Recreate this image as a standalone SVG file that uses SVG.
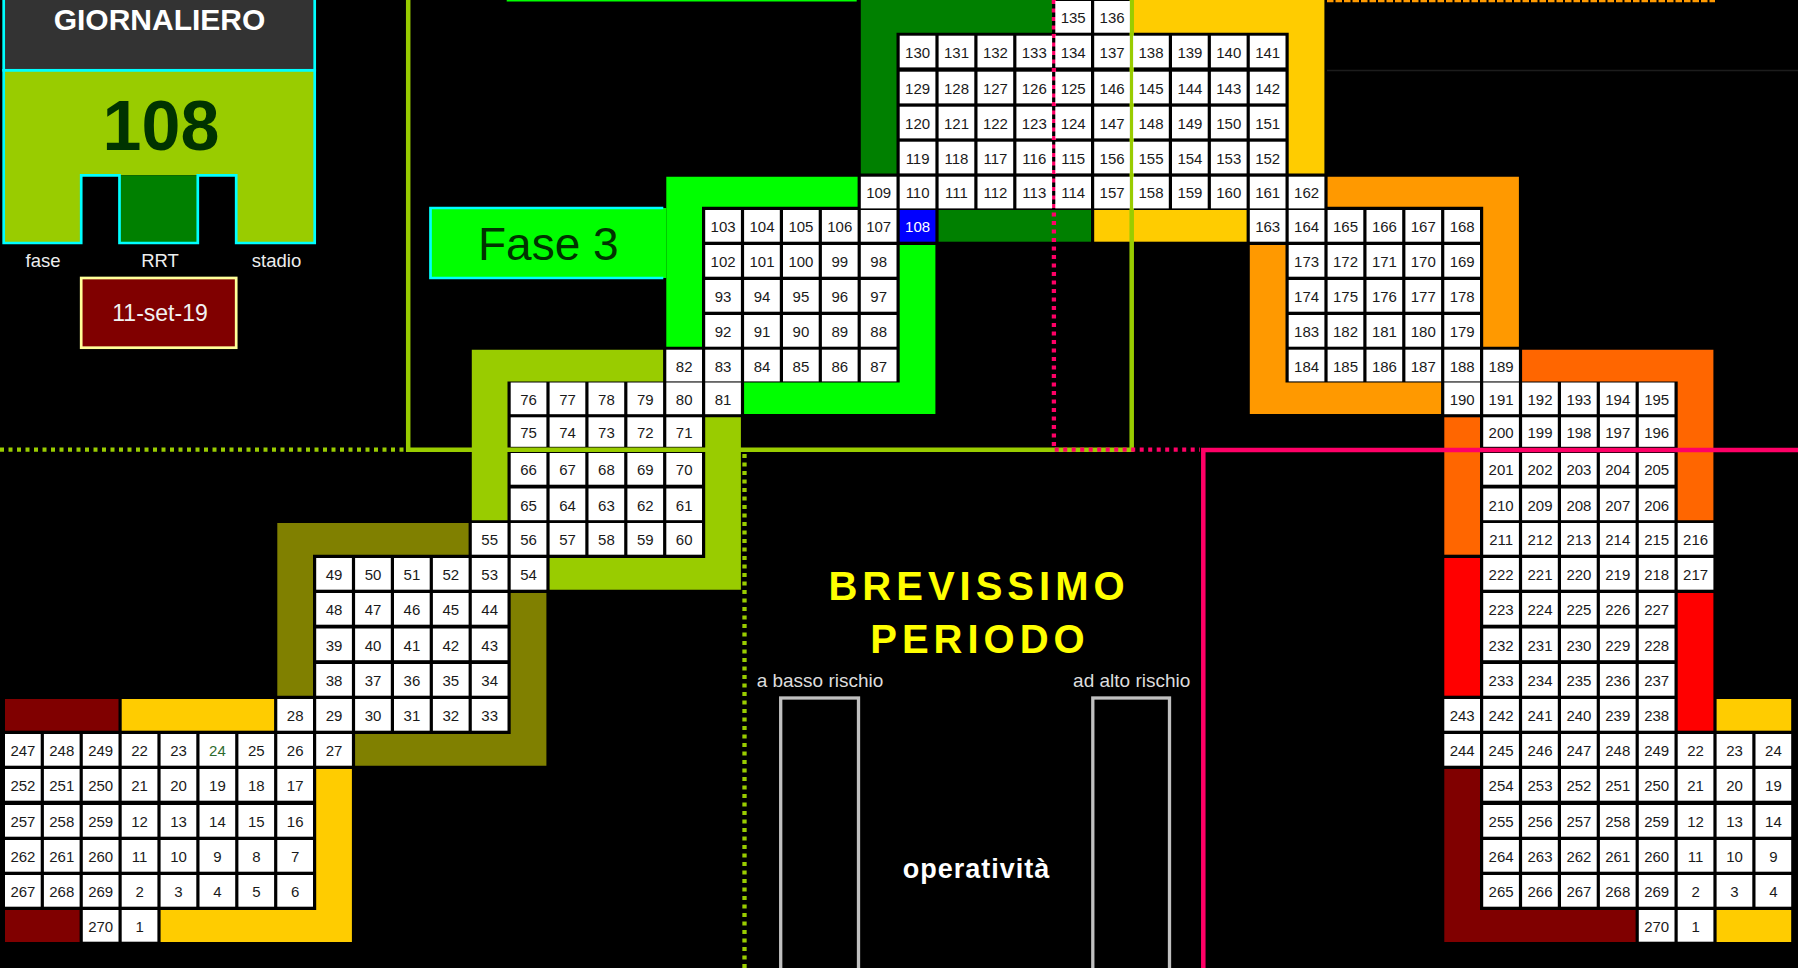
<svg xmlns="http://www.w3.org/2000/svg" width="1798" height="968" viewBox="0 0 1798 968">
<style>
text{font-family:"Liberation Sans",Arial,sans-serif}
.cells rect{fill:#fff;width:35.7px;height:31.7px}
.cells rect.b{fill:#0000ff}
.cells .r12 rect{height:29.5px}
.cells text{font-size:15px;fill:#1a1a1a;text-anchor:middle}
.lbl{fill:#eeeeee;font-size:18.5px;text-anchor:middle}
.sub{fill:#dddddd;font-size:19px;text-anchor:middle}
.dot{fill:none;stroke-width:4.3;stroke-dasharray:4 4.5}
.gray{fill:none;stroke:#c0c0c0;stroke-width:3.3}
</style>
<rect width="1798" height="968" fill="#000"/>
<g id="bands">
<rect x="5" y="699" width="113.5" height="31.7" fill="#800000"/>
<rect x="5" y="910" width="74.6" height="32" fill="#800000"/>
<path d="M1444.3,769H1480V910H1635.6V942H1444.3Z" fill="#800000"/>
<rect x="121.7" y="699" width="152.4" height="31.7" fill="#ffcc00"/>
<path d="M316.2,769H351.9V942H160.6V910H316.2Z" fill="#ffcc00"/>
<rect x="1716.6" y="699" width="74.6" height="31.7" fill="#ffcc00"/>
<rect x="1716.6" y="910" width="74.6" height="32" fill="#ffcc00"/>
<path d="M1133.1,0H1324.4V173.4H1288.7V32.7H1133.1Z" fill="#ffcc00"/>
<rect x="1094.2" y="210" width="152.4" height="31.7" fill="#ffcc00"/>
<path d="M277.3,523H468.6V554.7H313V695.7H277.3Z" fill="#808000"/>
<path d="M510.7,593H546.4V765.7H355.1V734H510.7Z" fill="#808000"/>
<path d="M471.8,349.7H663.1V381.4H507.5V520.2H471.8Z" fill="#99cc00"/>
<path d="M705.2,417.3H740.9V589.7H549.6V558H705.2Z" fill="#99cc00"/>
<path d="M666.3,176.7H857.6V206.7H702V346.7H666.3Z" fill="#00ff00"/>
<path d="M899.7,245H935.4V414H744.1V382.5H899.7Z" fill="#00ff00"/>
<path d="M860.8,0H1052.1V32.7H896.5V173.4H860.8Z" fill="#008000"/>
<rect x="938.6" y="210" width="152.4" height="31.7" fill="#008000"/>
<path d="M1327.6,176.7H1518.9V346.7H1483.2V206.7H1327.6Z" fill="#ff9900"/>
<path d="M1249.8,245H1285.5V382.5H1441.1V414H1249.8Z" fill="#ff9900"/>
<path d="M1522.1,349.7H1713.4V520.2H1677.7V381.4H1522.1Z" fill="#ff6600"/>
<rect x="1444.3" y="417.3" width="35.7" height="137.4" fill="#ff6600"/>
<rect x="1444.3" y="558" width="35.7" height="137.7" fill="#ff0000"/>
<rect x="1677.7" y="593" width="35.7" height="137.7" fill="#ff0000"/>
</g>
<g id="fase3">
<rect x="430.5" y="208" width="235.8" height="70" fill="#00ff00"/>
<path d="M663.3,208H430.5V278H663.3" fill="none" stroke="#00ffff" stroke-width="2.7"/>
<text x="478" y="260" font-size="46" fill="#003300">Fase 3</text>
</g>
<g id="giornaliero">
<rect x="3.7" y="-5" width="311" height="75.3" fill="#333333" stroke="#00ffff" stroke-width="2.7"/>
<text x="159.5" y="30" font-size="30" font-weight="bold" fill="#ffffff" text-anchor="middle">GIORNALIERO</text>
<path d="M3.7,70.3H314.7V243H236.2V175.3H81.2V243H3.7Z" fill="#99cc00"/>
<rect x="119.5" y="175.3" width="78.3" height="67.7" fill="#008000"/>
<path d="M3.7,70.3H314.7V243H236.2V175.3H197.8V243H119.5V175.3H81.2V243H3.7Z" fill="none" stroke="#00ffff" stroke-width="2.7"/>
<text x="161" y="150" font-size="70" font-weight="bold" fill="#003300" text-anchor="middle">108</text>
<text class="lbl" x="43" y="266.5">fase</text>
<text class="lbl" x="160" y="266.5">RRT</text>
<text class="lbl" x="276.5" y="266.5">stadio</text>
</g>
<g id="date">
<rect x="81.2" y="278" width="155" height="69.7" fill="#800000" stroke="#ffff99" stroke-width="2.7"/>
<text x="160" y="321" font-size="23" fill="#f2f2f2" text-anchor="middle">11-set-19</text>
</g>
<g id="connectors" fill="none">
<path d="M408.2,0V449.7H1131.7V0" stroke="#99cc00" stroke-width="4.5"/>
<path class="dot" d="M0,449.7H405" stroke="#99cc00"/>
<path class="dot" d="M744.5,454V968" stroke="#99cc00"/>
<path class="dot" d="M1053.9,0V449.7H1200" stroke="#ff0066" stroke-width="4"/>
<path d="M1203.3,968V449.9H1798" stroke="#ff0066" stroke-width="4.5"/>
<path d="M506.7,0.7H856.7" stroke="#00ff00" stroke-width="1.5"/>
<path d="M1327,1H1715" stroke="#ff9900" stroke-width="2.5" stroke-dasharray="6.5 2"/>
<path d="M1327,70.5H1798" stroke="#1c1c1c" stroke-width="1.5"/>
</g>
<g id="cells" class="cells">
<g id="row0" transform="translate(0,1)"><rect x="1055.3"/><rect x="1094.2"/><text y="22"><tspan x="1073.2">135</tspan><tspan x="1112.1">136</tspan></text></g>
<g id="row1" transform="translate(0,35.7)"><rect x="899.7"/><rect x="938.6"/><rect x="977.5"/><rect x="1016.4"/><rect x="1055.3"/><rect x="1094.2"/><rect x="1133.1"/><rect x="1172"/><rect x="1210.9"/><rect x="1249.8"/><text y="22"><tspan x="917.6">130</tspan><tspan x="956.5">131</tspan><tspan x="995.4">132</tspan><tspan x="1034.3">133</tspan><tspan x="1073.2">134</tspan><tspan x="1112.1">137</tspan><tspan x="1151">138</tspan><tspan x="1189.9">139</tspan><tspan x="1228.8">140</tspan><tspan x="1267.7">141</tspan></text></g>
<g id="row2" transform="translate(0,71.7)"><rect x="899.7"/><rect x="938.6"/><rect x="977.5"/><rect x="1016.4"/><rect x="1055.3"/><rect x="1094.2"/><rect x="1133.1"/><rect x="1172"/><rect x="1210.9"/><rect x="1249.8"/><text y="22"><tspan x="917.6">129</tspan><tspan x="956.5">128</tspan><tspan x="995.4">127</tspan><tspan x="1034.3">126</tspan><tspan x="1073.2">125</tspan><tspan x="1112.1">146</tspan><tspan x="1151">145</tspan><tspan x="1189.9">144</tspan><tspan x="1228.8">143</tspan><tspan x="1267.7">142</tspan></text></g>
<g id="row3" transform="translate(0,106.7)"><rect x="899.7"/><rect x="938.6"/><rect x="977.5"/><rect x="1016.4"/><rect x="1055.3"/><rect x="1094.2"/><rect x="1133.1"/><rect x="1172"/><rect x="1210.9"/><rect x="1249.8"/><text y="22"><tspan x="917.6">120</tspan><tspan x="956.5">121</tspan><tspan x="995.4">122</tspan><tspan x="1034.3">123</tspan><tspan x="1073.2">124</tspan><tspan x="1112.1">147</tspan><tspan x="1151">148</tspan><tspan x="1189.9">149</tspan><tspan x="1228.8">150</tspan><tspan x="1267.7">151</tspan></text></g>
<g id="row4" transform="translate(0,141.7)"><rect x="899.7"/><rect x="938.6"/><rect x="977.5"/><rect x="1016.4"/><rect x="1055.3"/><rect x="1094.2"/><rect x="1133.1"/><rect x="1172"/><rect x="1210.9"/><rect x="1249.8"/><text y="22"><tspan x="917.6">119</tspan><tspan x="956.5">118</tspan><tspan x="995.4">117</tspan><tspan x="1034.3">116</tspan><tspan x="1073.2">115</tspan><tspan x="1112.1">156</tspan><tspan x="1151">155</tspan><tspan x="1189.9">154</tspan><tspan x="1228.8">153</tspan><tspan x="1267.7">152</tspan></text></g>
<g id="row5" transform="translate(0,176.7)"><rect x="860.8"/><rect x="899.7"/><rect x="938.6"/><rect x="977.5"/><rect x="1016.4"/><rect x="1055.3"/><rect x="1094.2"/><rect x="1133.1"/><rect x="1172"/><rect x="1210.9"/><rect x="1249.8"/><rect x="1288.7"/><text y="21.5"><tspan x="878.7">109</tspan><tspan x="917.6">110</tspan><tspan x="956.5">111</tspan><tspan x="995.4">112</tspan><tspan x="1034.3">113</tspan><tspan x="1073.2">114</tspan><tspan x="1112.1">157</tspan><tspan x="1151">158</tspan><tspan x="1189.9">159</tspan><tspan x="1228.8">160</tspan><tspan x="1267.7">161</tspan><tspan x="1306.6">162</tspan></text></g>
<g id="row6" transform="translate(0,210)"><rect x="705.2"/><rect x="744.1"/><rect x="783"/><rect x="821.9"/><rect x="860.8"/><rect class="b" x="899.7"/><rect x="1249.8"/><rect x="1288.7"/><rect x="1327.6"/><rect x="1366.5"/><rect x="1405.4"/><rect x="1444.3"/><text y="22"><tspan x="723.1">103</tspan><tspan x="762">104</tspan><tspan x="800.9">105</tspan><tspan x="839.8">106</tspan><tspan x="878.7">107</tspan><tspan x="917.6" fill="#ffffff">108</tspan><tspan x="1267.7">163</tspan><tspan x="1306.6">164</tspan><tspan x="1345.5">165</tspan><tspan x="1384.4">166</tspan><tspan x="1423.3">167</tspan><tspan x="1462.2">168</tspan></text></g>
<g id="row7" transform="translate(0,245)"><rect x="705.2"/><rect x="744.1"/><rect x="783"/><rect x="821.9"/><rect x="860.8"/><rect x="1288.7"/><rect x="1327.6"/><rect x="1366.5"/><rect x="1405.4"/><rect x="1444.3"/><text y="22"><tspan x="723.1">102</tspan><tspan x="762">101</tspan><tspan x="800.9">100</tspan><tspan x="839.8">99</tspan><tspan x="878.7">98</tspan><tspan x="1306.6">173</tspan><tspan x="1345.5">172</tspan><tspan x="1384.4">171</tspan><tspan x="1423.3">170</tspan><tspan x="1462.2">169</tspan></text></g>
<g id="row8" transform="translate(0,280)"><rect x="705.2"/><rect x="744.1"/><rect x="783"/><rect x="821.9"/><rect x="860.8"/><rect x="1288.7"/><rect x="1327.6"/><rect x="1366.5"/><rect x="1405.4"/><rect x="1444.3"/><text y="22"><tspan x="723.1">93</tspan><tspan x="762">94</tspan><tspan x="800.9">95</tspan><tspan x="839.8">96</tspan><tspan x="878.7">97</tspan><tspan x="1306.6">174</tspan><tspan x="1345.5">175</tspan><tspan x="1384.4">176</tspan><tspan x="1423.3">177</tspan><tspan x="1462.2">178</tspan></text></g>
<g id="row9" transform="translate(0,315)"><rect x="705.2"/><rect x="744.1"/><rect x="783"/><rect x="821.9"/><rect x="860.8"/><rect x="1288.7"/><rect x="1327.6"/><rect x="1366.5"/><rect x="1405.4"/><rect x="1444.3"/><text y="22"><tspan x="723.1">92</tspan><tspan x="762">91</tspan><tspan x="800.9">90</tspan><tspan x="839.8">89</tspan><tspan x="878.7">88</tspan><tspan x="1306.6">183</tspan><tspan x="1345.5">182</tspan><tspan x="1384.4">181</tspan><tspan x="1423.3">180</tspan><tspan x="1462.2">179</tspan></text></g>
<g id="row10" transform="translate(0,349.7)"><rect x="666.3"/><rect x="705.2"/><rect x="744.1"/><rect x="783"/><rect x="821.9"/><rect x="860.8"/><rect x="1288.7"/><rect x="1327.6"/><rect x="1366.5"/><rect x="1405.4"/><rect x="1444.3"/><rect x="1483.2"/><text y="22"><tspan x="684.2">82</tspan><tspan x="723.1">83</tspan><tspan x="762">84</tspan><tspan x="800.9">85</tspan><tspan x="839.8">86</tspan><tspan x="878.7">87</tspan><tspan x="1306.6">184</tspan><tspan x="1345.5">185</tspan><tspan x="1384.4">186</tspan><tspan x="1423.3">187</tspan><tspan x="1462.2">188</tspan><tspan x="1501.1">189</tspan></text></g>
<g id="row11" transform="translate(0,382.5)"><rect x="510.7"/><rect x="549.6"/><rect x="588.5"/><rect x="627.4"/><rect x="666.3"/><rect x="705.2"/><rect x="1444.3"/><rect x="1483.2"/><rect x="1522.1"/><rect x="1561"/><rect x="1599.9"/><rect x="1638.8"/><text y="22"><tspan x="528.6">76</tspan><tspan x="567.5">77</tspan><tspan x="606.4">78</tspan><tspan x="645.3">79</tspan><tspan x="684.2">80</tspan><tspan x="723.1">81</tspan><tspan x="1462.2">190</tspan><tspan x="1501.1">191</tspan><tspan x="1540">192</tspan><tspan x="1578.9">193</tspan><tspan x="1617.8">194</tspan><tspan x="1656.7">195</tspan></text></g>
<g id="row12" class="r12" transform="translate(0,417.3)"><rect x="510.7"/><rect x="549.6"/><rect x="588.5"/><rect x="627.4"/><rect x="666.3"/><rect x="1483.2"/><rect x="1522.1"/><rect x="1561"/><rect x="1599.9"/><rect x="1638.8"/><text y="21"><tspan x="528.6">75</tspan><tspan x="567.5">74</tspan><tspan x="606.4">73</tspan><tspan x="645.3">72</tspan><tspan x="684.2">71</tspan><tspan x="1501.1">200</tspan><tspan x="1540">199</tspan><tspan x="1578.9">198</tspan><tspan x="1617.8">197</tspan><tspan x="1656.7">196</tspan></text></g>
<g id="row13" transform="translate(0,453)"><rect x="510.7"/><rect x="549.6"/><rect x="588.5"/><rect x="627.4"/><rect x="666.3"/><rect x="1483.2"/><rect x="1522.1"/><rect x="1561"/><rect x="1599.9"/><rect x="1638.8"/><text y="22"><tspan x="528.6">66</tspan><tspan x="567.5">67</tspan><tspan x="606.4">68</tspan><tspan x="645.3">69</tspan><tspan x="684.2">70</tspan><tspan x="1501.1">201</tspan><tspan x="1540">202</tspan><tspan x="1578.9">203</tspan><tspan x="1617.8">204</tspan><tspan x="1656.7">205</tspan></text></g>
<g id="row14" transform="translate(0,488.5)"><rect x="510.7"/><rect x="549.6"/><rect x="588.5"/><rect x="627.4"/><rect x="666.3"/><rect x="1483.2"/><rect x="1522.1"/><rect x="1561"/><rect x="1599.9"/><rect x="1638.8"/><text y="22"><tspan x="528.6">65</tspan><tspan x="567.5">64</tspan><tspan x="606.4">63</tspan><tspan x="645.3">62</tspan><tspan x="684.2">61</tspan><tspan x="1501.1">210</tspan><tspan x="1540">209</tspan><tspan x="1578.9">208</tspan><tspan x="1617.8">207</tspan><tspan x="1656.7">206</tspan></text></g>
<g id="row15" transform="translate(0,523)"><rect x="471.8"/><rect x="510.7"/><rect x="549.6"/><rect x="588.5"/><rect x="627.4"/><rect x="666.3"/><rect x="1483.2"/><rect x="1522.1"/><rect x="1561"/><rect x="1599.9"/><rect x="1638.8"/><rect x="1677.7"/><text y="22"><tspan x="489.7">55</tspan><tspan x="528.6">56</tspan><tspan x="567.5">57</tspan><tspan x="606.4">58</tspan><tspan x="645.3">59</tspan><tspan x="684.2">60</tspan><tspan x="1501.1">211</tspan><tspan x="1540">212</tspan><tspan x="1578.9">213</tspan><tspan x="1617.8">214</tspan><tspan x="1656.7">215</tspan><tspan x="1695.6">216</tspan></text></g>
<g id="row16" transform="translate(0,558)"><rect x="316.2"/><rect x="355.1"/><rect x="394"/><rect x="432.9"/><rect x="471.8"/><rect x="510.7"/><rect x="1483.2"/><rect x="1522.1"/><rect x="1561"/><rect x="1599.9"/><rect x="1638.8"/><rect x="1677.7"/><text y="22"><tspan x="334.1">49</tspan><tspan x="373">50</tspan><tspan x="411.9">51</tspan><tspan x="450.8">52</tspan><tspan x="489.7">53</tspan><tspan x="528.6">54</tspan><tspan x="1501.1">222</tspan><tspan x="1540">221</tspan><tspan x="1578.9">220</tspan><tspan x="1617.8">219</tspan><tspan x="1656.7">218</tspan><tspan x="1695.6">217</tspan></text></g>
<g id="row17" transform="translate(0,593)"><rect x="316.2"/><rect x="355.1"/><rect x="394"/><rect x="432.9"/><rect x="471.8"/><rect x="1483.2"/><rect x="1522.1"/><rect x="1561"/><rect x="1599.9"/><rect x="1638.8"/><text y="22"><tspan x="334.1">48</tspan><tspan x="373">47</tspan><tspan x="411.9">46</tspan><tspan x="450.8">45</tspan><tspan x="489.7">44</tspan><tspan x="1501.1">223</tspan><tspan x="1540">224</tspan><tspan x="1578.9">225</tspan><tspan x="1617.8">226</tspan><tspan x="1656.7">227</tspan></text></g>
<g id="row18" transform="translate(0,628.5)"><rect x="316.2"/><rect x="355.1"/><rect x="394"/><rect x="432.9"/><rect x="471.8"/><rect x="1483.2"/><rect x="1522.1"/><rect x="1561"/><rect x="1599.9"/><rect x="1638.8"/><text y="22"><tspan x="334.1">39</tspan><tspan x="373">40</tspan><tspan x="411.9">41</tspan><tspan x="450.8">42</tspan><tspan x="489.7">43</tspan><tspan x="1501.1">232</tspan><tspan x="1540">231</tspan><tspan x="1578.9">230</tspan><tspan x="1617.8">229</tspan><tspan x="1656.7">228</tspan></text></g>
<g id="row19" transform="translate(0,664)"><rect x="316.2"/><rect x="355.1"/><rect x="394"/><rect x="432.9"/><rect x="471.8"/><rect x="1483.2"/><rect x="1522.1"/><rect x="1561"/><rect x="1599.9"/><rect x="1638.8"/><text y="22"><tspan x="334.1">38</tspan><tspan x="373">37</tspan><tspan x="411.9">36</tspan><tspan x="450.8">35</tspan><tspan x="489.7">34</tspan><tspan x="1501.1">233</tspan><tspan x="1540">234</tspan><tspan x="1578.9">235</tspan><tspan x="1617.8">236</tspan><tspan x="1656.7">237</tspan></text></g>
<g id="row20" transform="translate(0,699)"><rect x="277.3"/><rect x="316.2"/><rect x="355.1"/><rect x="394"/><rect x="432.9"/><rect x="471.8"/><rect x="1444.3"/><rect x="1483.2"/><rect x="1522.1"/><rect x="1561"/><rect x="1599.9"/><rect x="1638.8"/><text y="22"><tspan x="295.2">28</tspan><tspan x="334.1">29</tspan><tspan x="373">30</tspan><tspan x="411.9">31</tspan><tspan x="450.8">32</tspan><tspan x="489.7">33</tspan><tspan x="1462.2">243</tspan><tspan x="1501.1">242</tspan><tspan x="1540">241</tspan><tspan x="1578.9">240</tspan><tspan x="1617.8">239</tspan><tspan x="1656.7">238</tspan></text></g>
<g id="row21" transform="translate(0,734)"><rect x="5"/><rect x="43.9"/><rect x="82.8"/><rect x="121.7"/><rect x="160.6"/><rect x="199.5"/><rect x="238.4"/><rect x="277.3"/><rect x="316.2"/><rect x="1444.3"/><rect x="1483.2"/><rect x="1522.1"/><rect x="1561"/><rect x="1599.9"/><rect x="1638.8"/><rect x="1677.7"/><rect x="1716.6"/><rect x="1755.5"/><text y="22"><tspan x="22.9">247</tspan><tspan x="61.8">248</tspan><tspan x="100.7">249</tspan><tspan x="139.6">22</tspan><tspan x="178.5">23</tspan><tspan x="217.4" fill="#2e6b2e">24</tspan><tspan x="256.3">25</tspan><tspan x="295.2">26</tspan><tspan x="334.1">27</tspan><tspan x="1462.2">244</tspan><tspan x="1501.1">245</tspan><tspan x="1540">246</tspan><tspan x="1578.9">247</tspan><tspan x="1617.8">248</tspan><tspan x="1656.7">249</tspan><tspan x="1695.6">22</tspan><tspan x="1734.5">23</tspan><tspan x="1773.4">24</tspan></text></g>
<g id="row22" transform="translate(0,769)"><rect x="5"/><rect x="43.9"/><rect x="82.8"/><rect x="121.7"/><rect x="160.6"/><rect x="199.5"/><rect x="238.4"/><rect x="277.3"/><rect x="1483.2"/><rect x="1522.1"/><rect x="1561"/><rect x="1599.9"/><rect x="1638.8"/><rect x="1677.7"/><rect x="1716.6"/><rect x="1755.5"/><text y="22"><tspan x="22.9">252</tspan><tspan x="61.8">251</tspan><tspan x="100.7">250</tspan><tspan x="139.6">21</tspan><tspan x="178.5">20</tspan><tspan x="217.4">19</tspan><tspan x="256.3">18</tspan><tspan x="295.2">17</tspan><tspan x="1501.1">254</tspan><tspan x="1540">253</tspan><tspan x="1578.9">252</tspan><tspan x="1617.8">251</tspan><tspan x="1656.7">250</tspan><tspan x="1695.6">21</tspan><tspan x="1734.5">20</tspan><tspan x="1773.4">19</tspan></text></g>
<g id="row23" transform="translate(0,805)"><rect x="5"/><rect x="43.9"/><rect x="82.8"/><rect x="121.7"/><rect x="160.6"/><rect x="199.5"/><rect x="238.4"/><rect x="277.3"/><rect x="1483.2"/><rect x="1522.1"/><rect x="1561"/><rect x="1599.9"/><rect x="1638.8"/><rect x="1677.7"/><rect x="1716.6"/><rect x="1755.5"/><text y="22"><tspan x="22.9">257</tspan><tspan x="61.8">258</tspan><tspan x="100.7">259</tspan><tspan x="139.6">12</tspan><tspan x="178.5">13</tspan><tspan x="217.4">14</tspan><tspan x="256.3">15</tspan><tspan x="295.2">16</tspan><tspan x="1501.1">255</tspan><tspan x="1540">256</tspan><tspan x="1578.9">257</tspan><tspan x="1617.8">258</tspan><tspan x="1656.7">259</tspan><tspan x="1695.6">12</tspan><tspan x="1734.5">13</tspan><tspan x="1773.4">14</tspan></text></g>
<g id="row24" transform="translate(0,840)"><rect x="5"/><rect x="43.9"/><rect x="82.8"/><rect x="121.7"/><rect x="160.6"/><rect x="199.5"/><rect x="238.4"/><rect x="277.3"/><rect x="1483.2"/><rect x="1522.1"/><rect x="1561"/><rect x="1599.9"/><rect x="1638.8"/><rect x="1677.7"/><rect x="1716.6"/><rect x="1755.5"/><text y="22"><tspan x="22.9">262</tspan><tspan x="61.8">261</tspan><tspan x="100.7">260</tspan><tspan x="139.6">11</tspan><tspan x="178.5">10</tspan><tspan x="217.4">9</tspan><tspan x="256.3">8</tspan><tspan x="295.2">7</tspan><tspan x="1501.1">264</tspan><tspan x="1540">263</tspan><tspan x="1578.9">262</tspan><tspan x="1617.8">261</tspan><tspan x="1656.7">260</tspan><tspan x="1695.6">11</tspan><tspan x="1734.5">10</tspan><tspan x="1773.4">9</tspan></text></g>
<g id="row25" transform="translate(0,875)"><rect x="5"/><rect x="43.9"/><rect x="82.8"/><rect x="121.7"/><rect x="160.6"/><rect x="199.5"/><rect x="238.4"/><rect x="277.3"/><rect x="1483.2"/><rect x="1522.1"/><rect x="1561"/><rect x="1599.9"/><rect x="1638.8"/><rect x="1677.7"/><rect x="1716.6"/><rect x="1755.5"/><text y="22"><tspan x="22.9">267</tspan><tspan x="61.8">268</tspan><tspan x="100.7">269</tspan><tspan x="139.6">2</tspan><tspan x="178.5">3</tspan><tspan x="217.4">4</tspan><tspan x="256.3">5</tspan><tspan x="295.2">6</tspan><tspan x="1501.1">265</tspan><tspan x="1540">266</tspan><tspan x="1578.9">267</tspan><tspan x="1617.8">268</tspan><tspan x="1656.7">269</tspan><tspan x="1695.6">2</tspan><tspan x="1734.5">3</tspan><tspan x="1773.4">4</tspan></text></g>
<g id="row26" transform="translate(0,910)"><rect x="82.8"/><rect x="121.7"/><rect x="1638.8"/><rect x="1677.7"/><text y="22"><tspan x="100.7">270</tspan><tspan x="139.6">1</tspan><tspan x="1656.7">270</tspan><tspan x="1695.6">1</tspan></text></g>
</g>
<g id="brevissimo">
<text x="979" y="600" font-size="40" font-weight="bold" fill="#ffff00" text-anchor="middle" letter-spacing="5">BREVISSIMO</text>
<text x="980" y="653" font-size="40" font-weight="bold" fill="#ffff00" text-anchor="middle" letter-spacing="5">PERIODO</text>
<text class="sub" x="820" y="686.7">a basso rischio</text>
<text class="sub" x="1131.7" y="686.7">ad alto rischio</text>
<rect class="gray" x="780.7" y="698" width="77.8" height="300"/>
<rect class="gray" x="1092.8" y="698" width="76.7" height="300"/>
<text x="976.5" y="878" font-size="27" font-weight="bold" fill="#ffffff" text-anchor="middle" letter-spacing="1">operatività</text>
</g>
</svg>
